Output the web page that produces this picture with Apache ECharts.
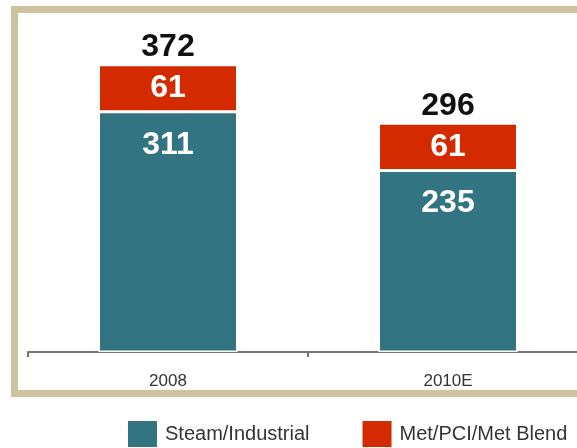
<!DOCTYPE html>
<html>
<head>
<meta charset="utf-8">
<script src="https://cdn.jsdelivr.net/npm/echarts@6/dist/echarts.min.js"></script>
<style>
  html, body { margin: 0; padding: 0; background: #fff; }
  #chart { width: 577px; height: 448px; }
</style>
</head>
<body>
<div id="chart"></div>
<script>
// 数据
var years = ['2008', '2010E'];
var steam = [311, 235];
var met = [61, 61];
var totals = [372, 296];

window.addEventListener("load", initChart);

function initChart(e) {
    var chart = echarts.init(document.getElementById("chart"));

    var font = 'Liberation Sans, Arial, sans-serif';

    var option = {
        animation: false,
        textStyle: { fontFamily: font },
        graphic: [{
            type: 'rect',
            z: -10,
            shape: { x: 14.5, y: 9.5, width: 620, height: 384 },
            style: { fill: 'none', stroke: '#cdc49f', lineWidth: 7 }
        }],
        legend: {
            left: 128,
            top: 421,
            padding: 0,
            itemWidth: 29,
            itemHeight: 26,
            itemGap: 53,
            icon: 'rect',
            itemStyle: { borderWidth: 0 },
            textStyle: { fontSize: 20, color: '#333', fontFamily: font, padding: [0, 0, 0, 3] },
            data: ['Steam/Industrial', 'Met/PCI/Met Blend']
        },
        grid: {
            left: 28,
            width: 560,
            top: 43,
            bottom: 96,
            outerBoundsMode: 'none'
        },
        xAxis: [{
            type: 'category',
            data: years,
            axisLine: { lineStyle: { color: '#777', width: 2 } },
            axisTick: { show: true, length: 5, lineStyle: { color: '#777', width: 2 } },
            axisLabel: { fontSize: 17, color: '#333', margin: 21, fontFamily: font }
        }],
        yAxis: [{
            type: 'value',
            min: 0,
            max: 400,
            show: false,
            splitLine: { show: false }
        }],
        series: [{
                name: 'Steam/Industrial',
                type: 'bar',
                stack: 'total',
                barWidth: 139,
                itemStyle: { color: '#337482', borderColor: '#fff', borderWidth: 1.5 },
                label: {
                    show: true,
                    position: 'insideTop',
                    distance: 17,
                    color: '#fff',
                    fontSize: 32,
                    fontWeight: 'bold',
                    fontFamily: font
                },
                data: steam
            },
            {
                name: 'Met/PCI/Met Blend',
                type: 'bar',
                stack: 'total',
                barWidth: 139,
                itemStyle: { color: '#d32a00', borderColor: '#fff', borderWidth: 1.5 },
                label: {
                    show: true,
                    position: 'inside',
                    color: '#fff',
                    fontSize: 32,
                    fontWeight: 'bold',
                    fontFamily: font
                },
                data: met
            },
            {
                name: 'total',
                type: 'bar',
                barWidth: 139,
                barGap: '-100%',
                silent: true,
                itemStyle: { color: 'rgba(0,0,0,0)' },
                label: {
                    show: true,
                    position: 'top',
                    distance: 1,
                    color: '#111',
                    fontSize: 32,
                    fontWeight: 'bold',
                    fontFamily: font
                },
                data: totals
            }
        ]
    };

    chart.setOption(option);
}
</script>
</body>
</html>
